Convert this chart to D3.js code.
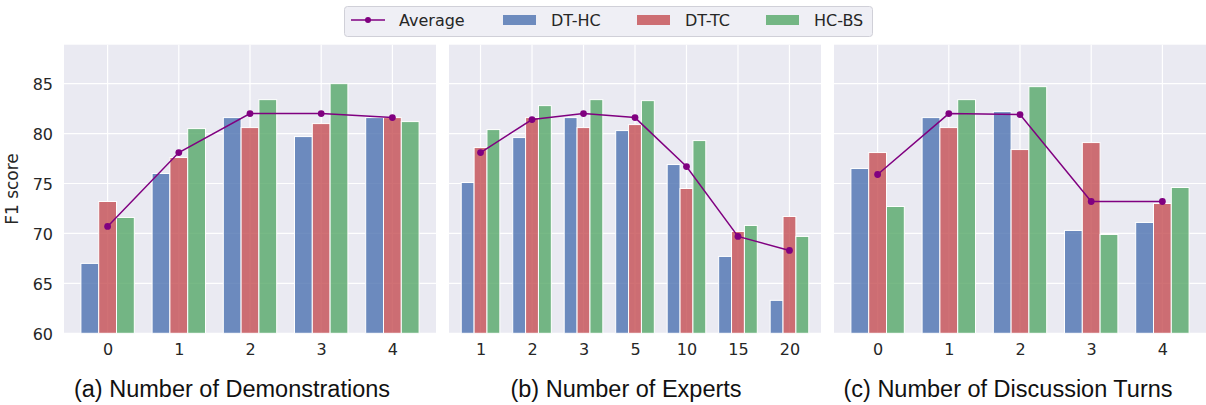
<!DOCTYPE html>
<html>
<head>
<meta charset="utf-8">
<script src="https://cdn.jsdelivr.net/npm/d3@7"></script>
<style>
  body { margin: 0; background: #fff; }
  svg { display: block; }
  .tick text { font-family: 'DejaVu Sans', sans-serif; font-size: 16px; fill: #262626; }
  .sub { font-family: 'Liberation Sans', Arial, sans-serif; font-size: 23.5px; fill: #111; }
  .legend text { font-family: 'DejaVu Sans', sans-serif; font-size: 16px; fill: #262626; }
</style>
</head>
<body>
<div id="chart-area"></div>
<script>
// series names and colours
const seriesNames = ['DT-HC', 'DT-TC', 'HC-BS'];
const seriesColors = ['#4C72B0', '#C44E52', '#55A868'];

// (a) Number of Demonstrations
const demoCats = ['0', '1', '2', '3', '4'];
const demoDTHC = [67.0, 76.0, 81.6, 79.7, 81.6];
const demoDTTC = [73.2, 77.6, 80.6, 81.0, 81.6];
const demoHCBS = [71.6, 80.5, 83.4, 85.0, 81.2];
const demoAvg = [70.7, 78.1, 82.0, 82.0, 81.6];

// (b) Number of Experts
const expCats = ['1', '2', '3', '5', '10', '15', '20'];
const expDTHC = [75.1, 79.6, 81.6, 80.3, 76.9, 67.7, 63.3];
const expDTTC = [78.6, 81.6, 80.6, 80.9, 74.5, 70.2, 71.7];
const expHCBS = [80.4, 82.8, 83.4, 83.3, 79.3, 70.8, 69.7];
const expAvg = [78.1, 81.4, 82.0, 81.6, 76.7, 69.7, 68.3];

// (c) Number of Discussion Turns
const turnCats = ['0', '1', '2', '3', '4'];
const turnDTHC = [76.5, 81.6, 82.2, 70.3, 71.1];
const turnDTTC = [78.1, 80.6, 78.4, 79.1, 73.0];
const turnHCBS = [72.7, 83.4, 84.7, 69.9, 74.6];
const turnAvg = [75.9, 82.0, 81.9, 73.2, 73.2];

const yTicks = [60, 65, 70, 75, 80, 85];

const panels = [
  { cats: demoCats, vals: [demoDTHC, demoDTTC, demoHCBS], avg: demoAvg, left: 64, title: '(a) Number of Demonstrations', tx: 232 },
  { cats: expCats, vals: [expDTHC, expDTTC, expHCBS], avg: expAvg, left: 449, title: '(b) Number of Experts', tx: 626 },
  { cats: turnCats, vals: [turnDTHC, turnDTTC, turnHCBS], avg: turnAvg, left: 834, title: '(c) Number of Discussion Turns', tx: 1008 },
];

const W = 1206, H = 405;
const pw = 372;
const plotTop = 44.7, plotBottom = 333.3;

const svg = d3.select('#chart-area').append('svg').attr('width', W).attr('height', H);

const y = d3.scaleLinear().domain([60, 88.9]).range([plotBottom, plotTop]);
const barW = 0.25;

panels.forEach((p, pi) => {
  const n = p.cats.length;
  const x = d3.scaleLinear().domain([-0.6125, n - 1 + 0.6125]).range([0, pw]);
  const g = svg.append('g').attr('transform', `translate(${p.left},0)`);

  g.append('rect')
    .attr('x', 0).attr('y', plotTop)
    .attr('width', pw).attr('height', plotBottom - plotTop)
    .attr('fill', '#EAEAF2');

  // grid
  g.append('g')
    .selectAll('line')
    .data(yTicks)
    .join('line')
    .attr('x1', 0).attr('x2', pw)
    .attr('y1', (d) => y(d)).attr('y2', (d) => y(d))
    .attr('stroke', '#fff').attr('stroke-width', 1.2);
  g.append('g')
    .selectAll('line')
    .data(p.cats)
    .join('line')
    .attr('x1', (d, i) => x(i)).attr('x2', (d, i) => x(i))
    .attr('y1', plotTop).attr('y2', plotBottom)
    .attr('stroke', '#fff').attr('stroke-width', 1.2);

  // bars
  p.vals.forEach((vals, si) => {
    g.append('g')
      .selectAll('rect')
      .data(vals)
      .join('rect')
      .attr('x', (d, i) => x(i - 0.375 + si * barW))
      .attr('width', x(barW) - x(0))
      .attr('y', (d) => y(d))
      .attr('height', (d) => y(60) - y(d))
      .attr('fill', seriesColors[si])
      .attr('fill-opacity', 0.8)
      .attr('stroke', '#fff')
      .attr('stroke-width', 1);
  });

  // average line
  const line = d3.line().x((d, i) => x(i)).y((d) => y(d));
  g.append('path')
    .attr('d', line(p.avg))
    .attr('fill', 'none')
    .attr('stroke', '#800080')
    .attr('stroke-width', 1.5);
  g.append('g')
    .selectAll('circle')
    .data(p.avg)
    .join('circle')
    .attr('cx', (d, i) => x(i)).attr('cy', (d) => y(d))
    .attr('r', 3.4)
    .attr('fill', '#800080');

  // x axis
  const xAxis = d3.axisBottom(x)
    .tickValues(d3.range(n))
    .tickFormat((i) => p.cats[i])
    .tickSize(0).tickPadding(10);
  g.append('g')
    .attr('class', 'x axis')
    .attr('transform', `translate(0,${plotBottom})`)
    .call(xAxis)
    .call((a) => a.select('.domain').remove());

  if (pi === 0) {
    const yAxis = d3.axisLeft(y).tickValues(yTicks).tickSize(0).tickPadding(11);
    g.append('g')
      .attr('class', 'y axis')
      .call(yAxis)
      .call((a) => a.select('.domain').remove())
      .selectAll('text').attr('dy', '0.36em');
    g.append('text')
      .attr('transform', `translate(${-46},${(plotTop + plotBottom) / 2}) rotate(-90)`)
      .attr('text-anchor', 'middle')
      .attr('font-family', 'DejaVu Sans, sans-serif')
      .attr('font-size', 17)
      .attr('fill', '#262626')
      .text('F1 score');
  }

  svg.append('text')
    .attr('class', 'sub')
    .attr('x', p.tx).attr('y', 397)
    .attr('text-anchor', 'middle')
    .text(p.title);
});

// legend
const legend = svg.append('g').attr('class', 'legend');
legend.append('rect')
  .attr('x', 344.5).attr('y', 6.5)
  .attr('width', 528).attr('height', 30)
  .attr('rx', 3)
  .attr('fill', '#EFEFF5')
  .attr('stroke', '#D0D0D8');

legend.append('line')
  .attr('x1', 351).attr('x2', 385)
  .attr('y1', 20).attr('y2', 20)
  .attr('stroke', '#800080').attr('stroke-width', 1.5);
legend.append('circle').attr('cx', 368).attr('cy', 20).attr('r', 3).attr('fill', '#800080');
legend.append('text').attr('x', 399).attr('y', 26).text('Average');

const patchX = [503, 637, 766];
seriesNames.forEach((name, i) => {
  legend.append('rect')
    .attr('x', patchX[i]).attr('y', 15)
    .attr('width', 33).attr('height', 10)
    .attr('fill', seriesColors[i]).attr('fill-opacity', 0.8);
  legend.append('text').attr('x', patchX[i] + 48).attr('y', 26).text(name);
});
</script>
</body>
</html>
